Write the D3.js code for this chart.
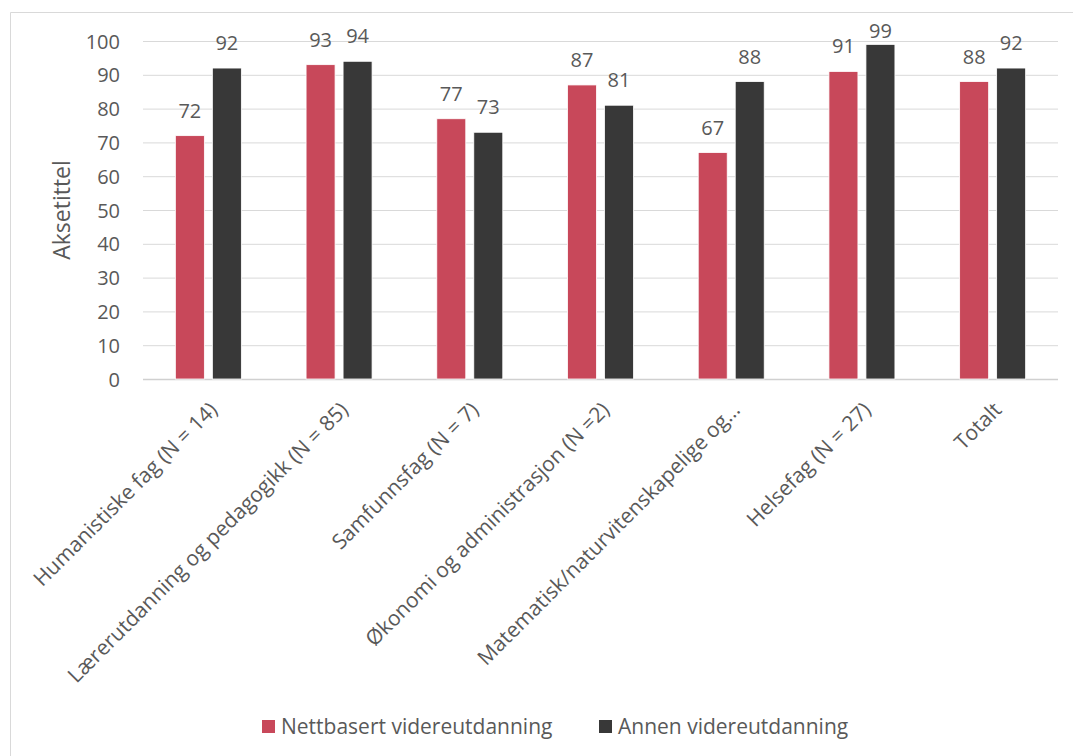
<!DOCTYPE html>
<html><head><meta charset="utf-8">
<script src="https://cdn.jsdelivr.net/npm/d3@7/dist/d3.min.js"></script>
<style>body{margin:0;background:#fff}svg{display:block}text{font-family:"Open Sans",sans-serif;fill:#595959}</style>
</head><body><svg id="c" width="1073" height="756"></svg>
<script>
const categories = ["Humanistiske fag (N = 14)","Lærerutdanning og pedagogikk (N = 85)","Samfunnsfag (N = 7)","Økonomi og administrasjon (N =2)","Matematisk/naturvitenskapelige og…","Helsefag (N = 27)","Totalt"];
const seriesNames = ["Nettbasert videreutdanning","Annen videreutdanning"];
const nettbasert = [72,93,77,87,67,91,88];
const annen = [92,94,73,81,88,99,92];
const yTicks = [0,10,20,30,40,50,60,70,80,90,100];
const colors = ["#C8485A","#383838"];

const svg = d3.select("#c");
svg.append("path").attr("d","M10.5,760V12.5H1080").attr("fill","none").attr("stroke","#d9d9d9");
const L=143,R=1058,T=41,B=379;
const x = d3.scaleBand().domain(categories).range([L,R]).paddingInner(0).paddingOuter(0);
const y = d3.scaleLinear().domain([0,100]).range([B,T]);
const barW=29, gap=8;

svg.append("g").selectAll("line").data(yTicks).join("line")
 .attr("x1",L).attr("x2",R).attr("y1",d=>y(d)+0.5).attr("y2",d=>y(d)+0.5)
 .attr("stroke",d=>d===0?"#d0d0d0":"#d9d9d9").attr("stroke-width",d=>d===0?1.5:1);

const yAxis = d3.axisLeft(y).tickValues(yTicks).tickSize(0).tickPadding(0);
const gy = svg.append("g").attr("transform",`translate(120,0)`).call(yAxis);
gy.select(".domain").remove();
gy.selectAll("text").style("font-size","20px").attr("fill","#595959").attr("dy","0.35em");

const data = categories.map((c,i)=>({c,v:[nettbasert[i],annen[i]]}));
const g = svg.append("g");
data.forEach(d=>{
  const cx = x(d.c)+x.bandwidth()/2;
  d.v.forEach((v,j)=>{
    const bx = j===0 ? cx-gap/2-barW : cx+gap/2;
    g.append("rect").attr("x",bx).attr("y",y(v)).attr("width",barW).attr("height",y(0)-y(v))
     .attr("fill",colors[j]).attr("stroke","#fff").attr("stroke-width",0.8);
    g.append("text").attr("x",bx+barW/2).attr("y",Math.max(y(v)-18,38)).attr("text-anchor","middle")
     .style("font-size","20px").text(v);
  });
});

const xAxis = d3.axisBottom(x).tickSize(0).tickPadding(0);
const gx = svg.append("g").attr("transform",`translate(0,${B})`).call(xAxis);
gx.select(".domain").remove();
gx.selectAll("text").style("font-size","21px").attr("fill","#595959")
  .attr("text-anchor","end").attr("dy","0.35em")
  .attr("transform","translate(5,27) rotate(-45)");

svg.append("text").attr("transform","translate(62,210) rotate(-90)").attr("text-anchor","middle")
  .attr("dy","0.35em").style("font-size","23px").text("Aksetittel");

const leg = svg.append("g");
const lx=[262,599];
seriesNames.forEach((n,i)=>{
  leg.append("rect").attr("x",lx[i]).attr("y",720).attr("width",13).attr("height",13).attr("fill",colors[i]);
  leg.append("text").attr("x",lx[i]+19).attr("y",727).attr("dy","0.35em").style("font-size","21px").text(n);
});
</script></body></html>
